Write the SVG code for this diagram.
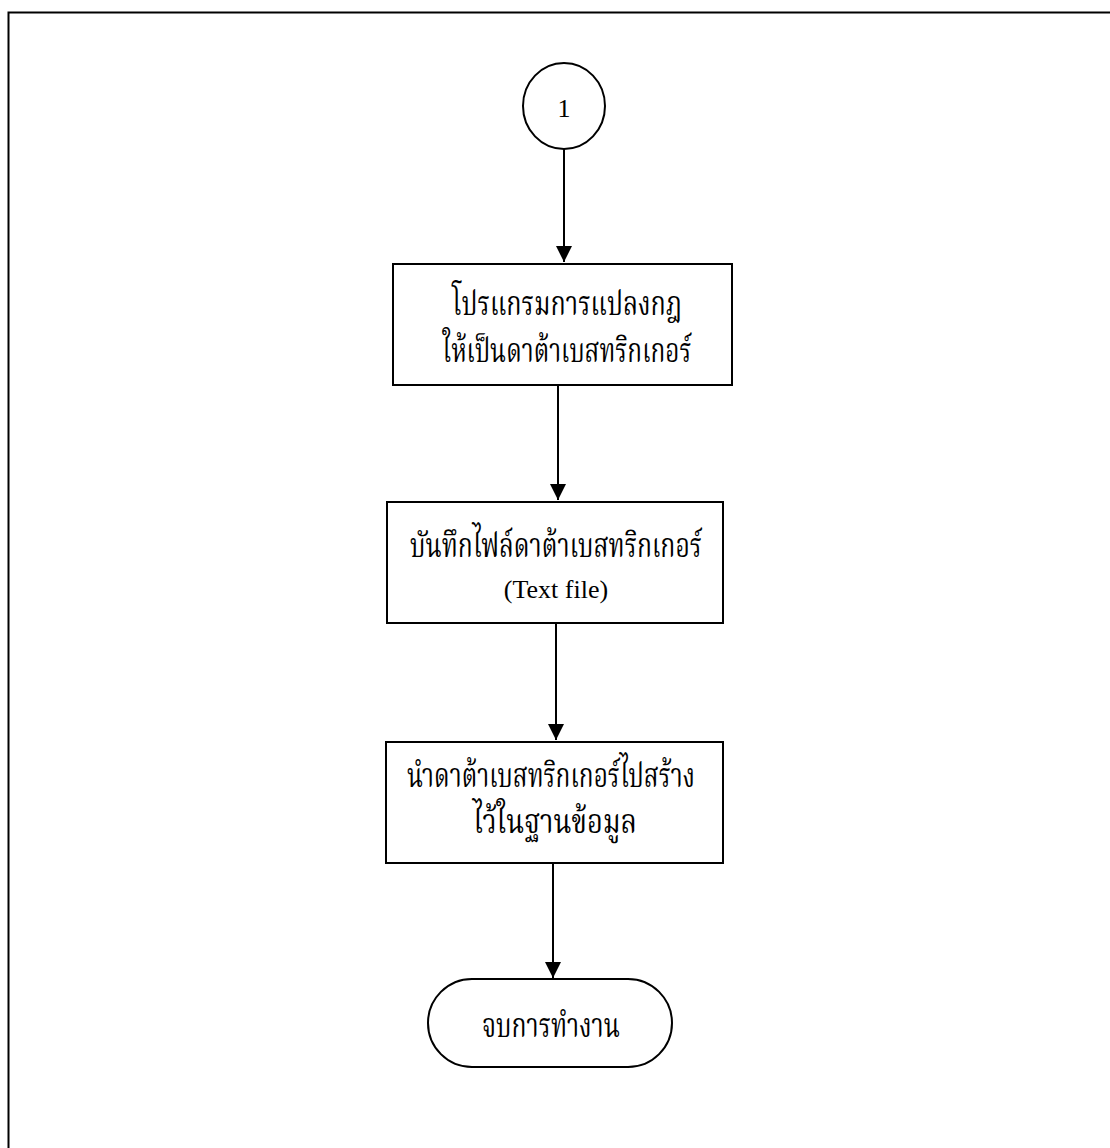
<svg xmlns="http://www.w3.org/2000/svg" width="1110" height="1148" viewBox="0 0 1110 1148">
  <style>
    .frame { fill: none; stroke: #000; stroke-width: 2; }
    .node { fill: #fff; stroke: #000; stroke-width: 2; }
    .edge { fill: none; stroke: #000; stroke-width: 2; }
    .th { font-family: "Liberation Serif", "Noto Serif Thai", "Noto Sans Thai", "DejaVu Serif", serif; font-size: 33px; fill: #000; text-anchor: middle; }
    .en { font-family: "Liberation Serif", serif; font-size: 26px; fill: #000; text-anchor: middle; }
  </style>
  <defs>
    <marker id="arrow" viewBox="0 0 16 16" refX="16" refY="8" markerWidth="16" markerHeight="16" markerUnits="userSpaceOnUse" orient="auto">
      <path d="M0,0 L16,8 L0,16 Z" fill="#000"/>
    </marker>
  </defs>

  <rect width="1110" height="1148" fill="#fff"/>
  <!-- page frame, right and bottom edges run off the sheet -->
  <rect class="frame" x="8.5" y="12.5" width="1120" height="1200"/>

  <g id="connectors">
    <line class="edge" x1="564" y1="149" x2="564" y2="262" marker-end="url(#arrow)"/>
    <line class="edge" x1="558" y1="385" x2="558" y2="500" marker-end="url(#arrow)"/>
    <line class="edge" x1="556" y1="623" x2="556" y2="740" marker-end="url(#arrow)"/>
    <line class="edge" x1="553" y1="863" x2="553" y2="978" marker-end="url(#arrow)"/>
  </g>

  <g id="connector-1">
    <ellipse class="node" cx="564" cy="106" rx="41" ry="43"/>
    <text class="en" x="564" y="117">1</text>
  </g>

  <g id="convert-rules">
    <rect class="node" x="393" y="264" width="339" height="121"/>
    <text class="th" x="567" y="315" textLength="230" lengthAdjust="spacingAndGlyphs">โปรแกรมการแปลงกฎ</text>
    <text class="th" x="567" y="362" textLength="249" lengthAdjust="spacingAndGlyphs">ให้เป็นดาต้าเบสทริกเกอร์</text>
  </g>

  <g id="save-file">
    <rect class="node" x="387" y="502" width="336" height="121"/>
    <text class="th" x="556" y="557" textLength="292" lengthAdjust="spacingAndGlyphs">บันทึกไฟล์ดาต้าเบสทริกเกอร์</text>
    <text class="en" x="556" y="598">(Text file)</text>
  </g>

  <g id="create-in-db">
    <rect class="node" x="386" y="742" width="337" height="121"/>
    <text class="th" x="551" y="787" textLength="288" lengthAdjust="spacingAndGlyphs">นำดาต้าเบสทริกเกอร์ไปสร้าง</text>
    <text class="th" x="555" y="833" textLength="164" lengthAdjust="spacingAndGlyphs">ไว้ในฐานข้อมูล</text>
  </g>

  <g id="end">
    <rect class="node" x="428" y="979" width="244" height="88" rx="44" ry="44"/>
    <text class="th" x="551" y="1037" textLength="138" lengthAdjust="spacingAndGlyphs">จบการทำงาน</text>
  </g>
</svg>
